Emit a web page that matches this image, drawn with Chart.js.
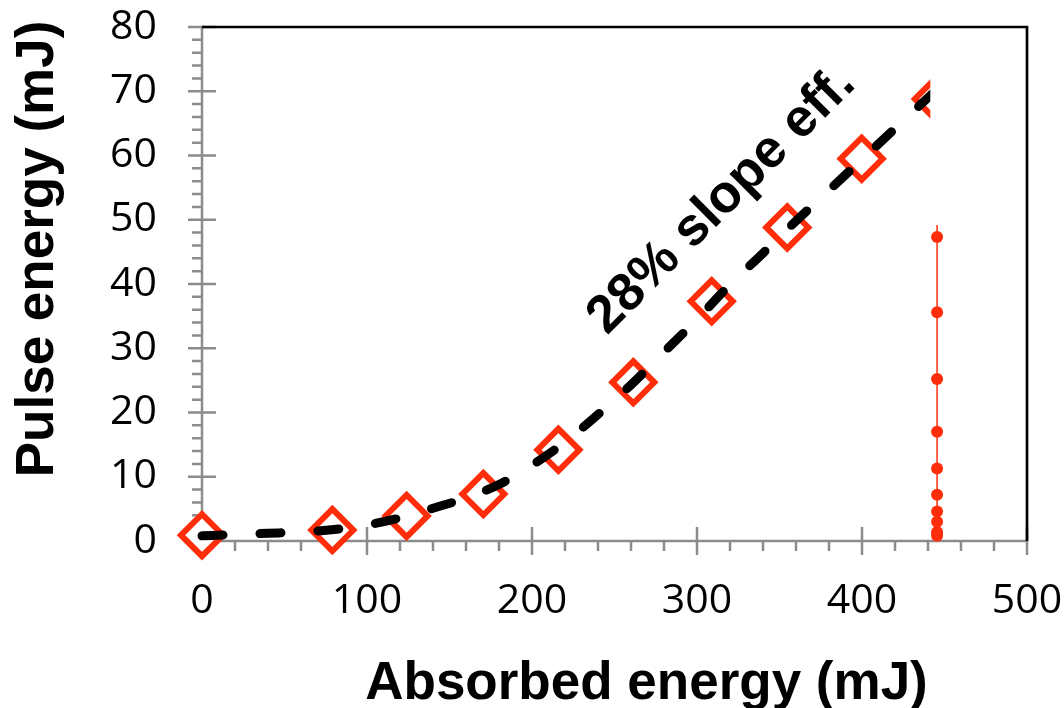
<!DOCTYPE html>
<html>
<head>
<meta charset="utf-8">
<title>Pulse energy vs absorbed energy</title>
<script src="https://cdn.jsdelivr.net/npm/chart.js@4.4.0/dist/chart.umd.min.js"></script>
<style>
  html, body { margin: 0; padding: 0; background: #fff; }
  #chartBox { width: 1064px; height: 708px; }
</style>
</head>
<body>
<div id="chartBox"><canvas id="myChart" width="1064" height="708"></canvas></div>
<script>
// ------>values<--
const absorbed = [0, 79, 124, 170.5, 216, 261.4, 308.9, 354.7, 399.8, 444.8];
const pulse = [0.9, 1.7, 3.9, 7.3, 14.2, 24.7, 37.3, 48.8, 59.5, 68.8];

// dashed fit curve
const fitAbsorbed = [0, 20, 40, 60, 80, 100, 120, 140, 160, 180, 200, 220, 240, 260, 280, 300, 320, 340, 360, 380, 400, 420, 445];
const fitPulse = [0.8, 1.0, 1.2, 1.4, 1.8, 2.5, 3.6, 5.1, 6.7, 8.8, 11.8, 15.4, 19.7, 24.3, 29.4, 34.5, 39.9, 44.8, 49.8, 54.6, 59.4, 64.2, 70.2];

// red vertical marker line
const markerAbsorbed = 445.5;
const markerPulse = [0.8, 1.4, 3.0, 4.6, 7.2, 11.3, 17.0, 25.2, 35.6, 47.3, 49.2];

const xTicks = [0, 100, 200, 300, 400, 500];
const yTicks = [0, 10, 20, 30, 40, 50, 60, 70, 80];
const xMinorStep = 20;
const yMinorStep = 2;

const xTitle = 'Absorbed energy (mJ)';
const yTitle = 'Pulse energy (mJ)';
const slopeLabel = '28% slope eff.';
const slopeAt = { x: 315, y: 53 };

const red = '#ff2d0a';
const boldFont = 'bold 53px "Liberation Sans", Arial, sans-serif';

// ------>axes drawn like the spreadsheet ones<--
const axesPlugin = {
    id: 'excelAxes',
    beforeDatasetsDraw(chart) {
        const { ctx, chartArea: a, scales: { x, y } } = chart;
        ctx.save();
        ctx.strokeStyle = '#8c8c8c';
        ctx.lineWidth = 2.5;
        ctx.beginPath();
        ctx.moveTo(a.left, a.top);
        ctx.lineTo(a.left, a.bottom);
        ctx.lineTo(a.right, a.bottom);
        for (let v = 0; v <= yTicks[yTicks.length - 1]; v += yMinorStep) {
            const py = y.getPixelForValue(v);
            ctx.moveTo(a.left - 10, py);
            ctx.lineTo(a.left, py);
        }
        for (let v = 0; v <= xTicks[xTicks.length - 1]; v += xMinorStep) {
            const px = x.getPixelForValue(v);
            ctx.moveTo(px, a.bottom);
            ctx.lineTo(px, a.bottom + 10);
        }
        for (const v of yTicks) {
            const py = y.getPixelForValue(v);
            ctx.moveTo(a.left - 14, py);
            ctx.lineTo(a.left + 14, py);
        }
        for (const v of xTicks) {
            const px = x.getPixelForValue(v);
            ctx.moveTo(px, a.bottom - 14);
            ctx.lineTo(px, a.bottom + 14);
        }
        ctx.stroke();
        ctx.restore();
    },
    afterDatasetsDraw(chart) {
        const { ctx, chartArea: a, scales: { x, y } } = chart;
        ctx.save();
        // white patch hiding the top of the marker column
        const bx = x.getPixelForValue(441.4);
        const by = y.getPixelForValue(50);
        ctx.fillStyle = '#ffffff';
        ctx.fillRect(bx, a.top, a.right - bx, by - a.top);

        // black frame top + right
        ctx.strokeStyle = '#000000';
        ctx.lineWidth = 2.7;
        ctx.beginPath();
        ctx.moveTo(a.left, a.top);
        ctx.lineTo(a.right, a.top);
        ctx.lineTo(a.right, a.bottom);
        ctx.stroke();

        // slope annotation
        ctx.fillStyle = '#000000';
        ctx.font = boldFont;
        ctx.textAlign = 'center';
        ctx.textBaseline = 'middle';
        ctx.translate(x.getPixelForValue(slopeAt.x), y.getPixelForValue(slopeAt.y));
        ctx.rotate(-45 * Math.PI / 180);
        ctx.fillText(slopeLabel, 0, 0);
        ctx.restore();
    },
    afterDraw(chart) {
        const { ctx } = chart;
        ctx.save();
        ctx.fillStyle = '#000000';
        ctx.font = boldFont;
        ctx.textAlign = 'center';
        ctx.textBaseline = 'middle';
        ctx.fillText(xTitle, 646.5, 684.5);
        ctx.translate(38.5, 249);
        ctx.rotate(-Math.PI / 2);
        ctx.fillText(yTitle, 0, 0);
        ctx.restore();
    }
};

const ctx = document.getElementById('myChart');
new Chart(ctx, {
    type: 'scatter',
    data: {
        datasets: [
            {
                label: 'fit',
                data: fitAbsorbed.map((v, i) => ({ x: v, y: fitPulse[i] })),
                showLine: true,
                borderColor: '#000000',
                borderWidth: 9,
                borderDash: [21, 37],
                borderCapStyle: 'round',
                cubicInterpolationMode: 'monotone',
                pointRadius: 0,
                order: 0
            },
            {
                label: 'measured',
                data: absorbed.map((v, i) => ({ x: v, y: pulse[i] })),
                pointStyle: 'rectRot',
                pointRadius: 21,
                pointBorderWidth: 6,
                pointBorderColor: red,
                pointBackgroundColor: '#ffffff',
                showLine: false,
                order: 1
            },
            {
                label: 'marker',
                data: markerPulse.map(v => ({ x: markerAbsorbed, y: v })),
                showLine: true,
                borderColor: red,
                borderWidth: 1.5,
                pointRadius: c => (c.dataIndex === markerPulse.length - 1 ? 0 : 6),
                pointBackgroundColor: red,
                pointBorderWidth: 0,
                order: 2
            }
        ]
    },
    options: {
        responsive: false,
        animation: false,
        devicePixelRatio: 1,
        clip: false,
        layout: { padding: { top: 20, right: 37, left: 0, bottom: 0 } },
        plugins: { legend: { display: false }, tooltip: { enabled: false } },
        scales: {
            x: {
                type: 'linear',
                min: 0,
                max: 500,
                afterFit: s => { s.height = 167; s.paddingLeft = 0; s.paddingRight = 0; },
                afterBuildTicks: s => { s.ticks = xTicks.map(v => ({ value: v })); },
                grid: { display: false, drawTicks: false },
                border: { display: false },
                ticks: {
                    padding: 36,
                    maxRotation: 0,
                    color: '#000000',
                    font: { family: '"Open Sans", sans-serif', size: 41, lineHeight: 1.2 }
                }
            },
            y: {
                type: 'linear',
                min: 0,
                max: 80,
                afterFit: s => { s.width = 202; s.paddingTop = 0; s.paddingBottom = 0; },
                afterBuildTicks: s => { s.ticks = yTicks.map(v => ({ value: v })); },
                grid: { display: false, drawTicks: false },
                border: { display: false },
                ticks: {
                    padding: 45,
                    color: '#000000',
                    font: { family: '"Open Sans", sans-serif', size: 41, lineHeight: 0.9 }
                }
            }
        }
    },
    plugins: [axesPlugin]
});
</script>
</body>
</html>
